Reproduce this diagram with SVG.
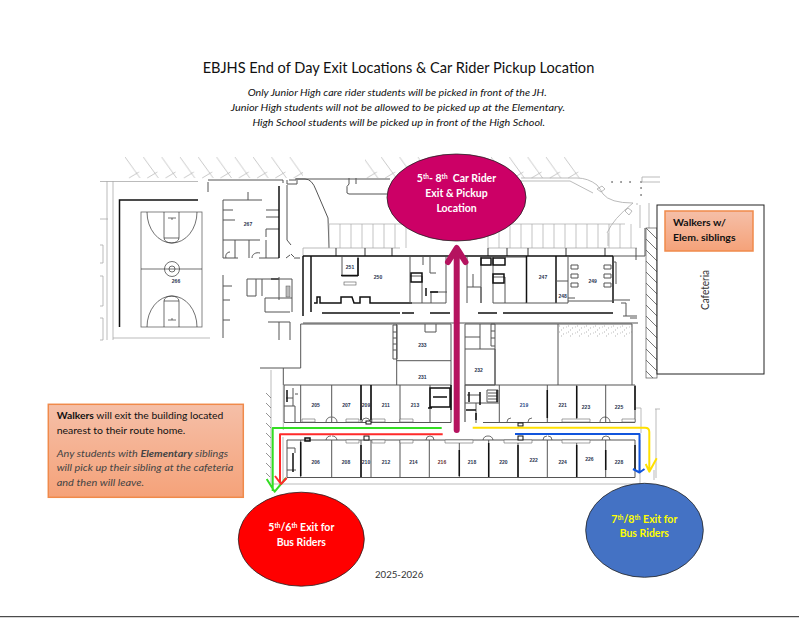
<svg xmlns="http://www.w3.org/2000/svg" width="799" height="618" viewBox="0 0 799 618">
<style>
text{font-family:Lato,"Liberation Sans",sans-serif;fill:#111}
.w{fill:none;stroke:#555;stroke-width:1}
.m{fill:none;stroke:#555;stroke-width:1.2}
.t{fill:none;stroke:#111;stroke-width:1.5}
.g{fill:none;stroke:#aaa;stroke-width:.8}
.n{fill:none;stroke:#333;stroke-width:.7}
.win{fill:#fff;stroke:#666;stroke-width:.6}
.r{font:bold 5px "Liberation Sans",sans-serif;fill:#2b3550;text-anchor:middle}
.h{font-size:10.5px;font-weight:700;text-anchor:middle;fill:#fff}
.i{font-size:10px;font-style:italic}
.box{stroke:#f08a4b;stroke-width:1.5}
.arrow{fill:none;stroke-width:2;stroke-linejoin:round}
</style>
<defs>
<linearGradient id="orange" x1="0" y1="0" x2="0" y2="1"><stop offset="0" stop-color="#f5bfa8"/><stop offset="1" stop-color="#f5a279"/></linearGradient>
<pattern id="park" x="125" y="157" width="18.3" height="22" patternUnits="userSpaceOnUse"><path d="M0 0L15 21M4 21L14 15" fill="none" stroke="#b5b5b5" stroke-width=".7"/></pattern>
<pattern id="caf" x="646" y="228" width="11" height="11" patternUnits="userSpaceOnUse"><path d="M0 0L11 11M-2 9L2 13M9-2L13 2" fill="none" stroke="#555" stroke-width=".8"/></pattern>
<pattern id="side" x="266" y="393" width="5" height="10" patternUnits="userSpaceOnUse"><path d="M0 0L5 5" fill="none" stroke="#666" stroke-width=".7"/></pattern>
<pattern id="spk" x="558" y="325" width="9" height="6" patternUnits="userSpaceOnUse"><path d="M1 1h.8M5 3h.8M3 5h.8M8 2h.6" stroke="#777" stroke-width=".7"/></pattern>
</defs>

<g id="floor-plan">
<rect x="125" y="157" width="178" height="22" fill="url(#park)"/>
<rect x="365" y="157" width="215" height="22" fill="url(#park)"/>
<path class="g" d="M100 181.500H198M113 181V340M107 181V340M100 219H108M100 245h3v18h-3M100 276h3v30h-3M100 318h3v22h-3M113 338H210"/>
<path class="t" d="M198 200H119.500V327"/>
<path class="w" d="M208 180H283V183M208 182V192M289 180H296M287 180V184H297V180M296 179H305Q312 179 316 190L328 218L329 248M287 185V240L291 245M295 179H390M349 178V184M356 178V184M349 184Q346 186 347 190Q346 194 349 194H387"/>
<rect x="141" y="212" width="61" height="115" fill="none" stroke="#666" stroke-width=".8"/>
<g class="n">
<path d="M141 269H202M147 212A25 31 0 0 0 197 212M164 212V238M179 212V238M164 238H179M164 238A7.500 5 0 0 0 179 238M147 327A25 31 0 0 1 197 327M164 327V301M179 327V301M164 301H179M164 301A7.500 5 0 0 1 179 301M168 218H176M172 218V220M168 320H176M172 318V320"/>
<circle cx="172" cy="269" r="7.500"/><circle cx="172" cy="269" r="3"/>
</g>
<path class="w" d="M223 200V258M223 200H243M248 192V200M243 200H262M223 210H233M223 220H235M223 240H260M223 258H238M235 240V258M249 240V258M259 258H279M266 210H279M266 217H279M266 229H279M266 229V237M266 240V258M223 275V338M223 286H232M223 300H230M223 320H230"/>
<path class="w" d="M247 279H292M247 279V296H256M256 279V296M262 279V296M279 277V300M292 279V298H265M265 298V312H290M292 298V312M268 322H290M279 322V340M290 322V340"/>
<rect x="271" y="278" width="8" height="2" fill="#555"/><rect x="286" y="286" width="4" height="11" fill="#bbb" stroke="#555" stroke-width=".5"/>
<path class="t" d="M279 186V258"/>
<path class="w" d="M226 258c-1-3 1-6 4-6M252 258c0-4 4-6 8-5M286 258l4-3M294 257l-3-3M300 258h-6"/>
<path class="g" d="M303 248H400M488 248H637M303 248V256"/>
<path class="m" d="M336 248V256M365 248V256M392 248V256M488 248V256M507 248V256M528 248V256M566 248V256M605 248V256"/>
<path fill="none" stroke="#aaa" stroke-width=".7" d="M329 224V248m11-24v24m11-24v24m11-24v24m11-24v24m11-24v24m11-24v24m11-24v24M488 224V248m11-24v24m11-24v24m11-24v24m11-24v24m11-24v24m11-24v24m11-24v24m11-24v24m11-24v24m11-24v24m11-24v24m11-24v24m11-24v24M328 224H402M488 224H625"/>
<path class="g" d="M521 178H577Q588 178 597 185Q601 190 603 194Q610 203 633 203M521 181H570L593 193M597 189l5-3 3 3-4 3ZM607 233Q613 219 633 203M608 233V246M625 211l3-3 4 3-3 4ZM637 203V205M649 203V228M640 205V228"/>
<path d="M612 182h.1M621 182h.1M630 182h.1M641 182h.1M641 188h.1M641 195h.1" stroke="#333" stroke-width="1.500" stroke-linecap="round"/>
<path class="g" d="M642 177H660M642 182H660M642 177V182"/>
<path class="t" d="M303 256H613M303 256V316M311 256V312M613 256V303"/>
<path class="w" d="M636 248V260M613 256H645V228M613 262H616V284M613 300H630M621 303H626V316M630 318H637M623 316H637"/>
<path class="w" d="M342 257V276H358V257"/>
<path class="t" d="M341 275.500H358M358 258V276"/>
<path class="t" d="M314 303H317V297H320V303H341V297H352L354 303H360V297H370V303H412"/>
<rect x="344" y="282" width="12" height="3" fill="#fff" stroke="#555" stroke-width=".6"/>
<path class="t" d="M322 313H400M402 313H414M430 313H450M478 313H497M503 313H613"/>
<path class="w" d="M303 323H638"/>
<path class="w" d="M410 257V303M410 303H446M410 276H422V286M422 286V303M431 292H447M431 292V303M446 257V303M430 257V273H436M423 257V265"/>
<path class="t" d="M411 273H422V282H411ZM426 288V296M430 292H438"/>
<path class="w" d="M467 257V303M467 287H481V303M473 274V287M481 257V303M493 257V303M493 277H505V303M505 257H526M493 303H526"/>
<path class="t" d="M481 258H491V265H481ZM493 258H505V265H493ZM493 274H504V283H493ZM526.500 256V303M556 256V303"/>
<path class="w" d="M526 303H556M556 281H568M568 256V303M556 303H568M568 301H613M568 298H575"/>
<path class="w" d="M571 265H578V269H571ZM571 274H578V278H571ZM571 283H578V287H571ZM604 265H611V269H604ZM604 274H611V278H604ZM604 283H611V287H604Z"/>
<path class="w" d="M300.700 324V368H260M283.300 368V385M300.700 324H396.700M396.700 324V385M396.700 324H451V385M396.700 360.700H451M436 324V332H425M425 324V332"/>
<path class="w" d="M465 349H495V385H465ZM495 324V385M465 324H495M465 337H480V349M495 324H632M558 324V385M632 324V385M480 337V324M465 324V349"/>
<rect x="558" y="325" width="74" height="12" fill="url(#spk)"/>
<path class="w" d="M393 325h4v34h-4zM393 332h4M393 338h4M393 344h4M393 350h4M495 324h-4v22h4M491 331h4M491 338h4"/>
<path class="m" d="M284 385H451M499 385H635M284 385V422M465 385V422M465 385H499"/>
<path class="w" d="M284 422.500H451M483 422.500H635M300.700 385V422.500M331.700 385V422.500M361 385V422.500M371 385V422.500M400 385V422.500M430 385V422.500M451 385V422.500M499.300 385V422.500M547.300 385V422.500M576.700 385V422.500M605.700 385V422.500M635 385V422.500"/>
<path class="t" d="M361 385V420M371 385V420M547.300 390V418M576.700 386V418M635 386V410M451 385V410"/>
<path class="t" d="M430 388H450V407H430ZM433 397H447M428 408H432"/>
<path class="w" d="M465 403H499M476 403V423M284 406H295V422M293 388V406M286 398H293M295 394H298M467 395H480M487 390H498V402H487ZM488 393H497M488 396H497M488 399H497"/>
<path class="t" d="M287 390V402M469 392V402M480 392V405M497 390V402M476 413V420M466 410H476"/>
<path class="w" d="M287 440H635M287 477.500H635M300.700 440V477.500M331.700 440V477.500M361 440V477.500M371 440V477.500M400 440V477.500M429.300 440V477.500M459.300 440V477.500M488.700 440V477.500M518 440V477.500M547.300 440V477.500M576.700 440V477.500M605.700 440V477.500M635 440V477.500M287 440V477.500M287 448H295V453M287 470H296"/>
<path class="t" d="M293 453V472M300.700 442V476M361 445V477M459.300 450V476M488.700 443V477M518 445V477M576.700 445V477M605.700 450V470M635 445V470M305 438h5v3h-5Z"/>
<path class="n" d="M326 422a5 5 0 0 1 5-5M337 422a5 5 0 0 0-5-5M362 422a4 4 0 0 1 4-4M370 422a4 4 0 0 0-4-4M507 422a4 4 0 0 1 4-4M528 422a4 4 0 0 1 4-4M600 422a5 5 0 0 1 5-5M610 422a5 5 0 0 0-5-5M326 440a5 5 0 0 1 5-4M337 440a5 5 0 0 0-5-4M426 440a4 4 0 0 1 4-4M434 440a4 4 0 0 0-4-4M483 440a5 5 0 0 1 5-4M493 440a5 5 0 0 0-5-4M543 440a4 4 0 0 1 4-4M552 440a4 4 0 0 0-4-4M602 440a4 4 0 0 1 4-4M610 440a4 4 0 0 0-4-4"/>
<path class="win" d="M302 419h13v3h-13zM346 419h13v3h-13zM372 419h13v3h-13zM400 419h13v3h-13zM562 419h28v3h-28zM622 419h13v3h-13zM346 440h13v3h-13zM372 440h13v3h-13zM400 440h13v3h-13zM445 440h28v3h-28zM504 440h28v3h-28zM562 440h28v3h-28z"/>
<rect x="518" y="423" width="5" height="3" fill="#fff" stroke="#111"/><rect x="366" y="421" width="5" height="3" fill="#fff" stroke="#111"/><rect x="364" y="436" width="5" height="4" fill="#fff" stroke="#111"/><rect x="518" y="436" width="5" height="4" fill="#fff" stroke="#111"/>
<path class="g" d="M271 370V484M283.300 385V430M272 484H640M283 437V480M636 408h5v25M655 409h5M656 409V478M640 484V440M654 470V480"/>
<rect x="266" y="393" width="5" height="84" fill="url(#side)"/>
<rect x="646" y="228" width="11" height="150" fill="url(#caf)" stroke="#555" stroke-width=".7"/>
<g>
<text class="r" x="176" y="283">266</text><text class="r" x="248" y="226">267</text><text class="r" x="350" y="269">251</text><text class="r" x="378" y="279">250</text><text class="r" x="543" y="279">247</text><text class="r" x="562.700" y="298">248</text><text class="r" x="592.700" y="283">249</text><text class="r" x="422.300" y="347">233</text><text class="r" x="422.300" y="378.500">231</text><text class="r" x="478.700" y="372">232</text>
<text class="r" x="315.700" y="407">205</text><text class="r" x="346.300" y="407">207</text><text class="r" x="366" y="407">209</text><text class="r" x="385.700" y="407">211</text><text class="r" x="415" y="407">213</text>
<text class="r" x="524" y="407" style="fill:#2a4a8a">219</text><text class="r" x="562.700" y="407">221</text><text class="r" x="586" y="409">223</text><text class="r" x="619" y="409">225</text>
<text class="r" x="315.700" y="464">206</text><text class="r" x="346" y="464">208</text><text class="r" x="366" y="464">210</text><text class="r" x="386" y="464">212</text><text class="r" x="413.300" y="464">214</text><text class="r" x="442" y="464" style="fill:#6b2f2f">216</text><text class="r" x="472" y="464">218</text><text class="r" x="503.300" y="464">220</text><text class="r" x="533.700" y="462">222</text><text class="r" x="562.700" y="464">224</text><text class="r" x="589.300" y="461">226</text><text class="r" x="619" y="464">228</text>
</g>
</g>

<g id="heading">
<text x="202.700" y="72.700" font-size="14.700" textLength="391.600" lengthAdjust="spacingAndGlyphs">EBJHS End of Day Exit Locations &amp; Car Rider Pickup Location</text>
<text class="i" x="247.700" y="96" textLength="299" lengthAdjust="spacingAndGlyphs">Only Junior High care rider students will be picked in front of the JH.</text>
<text class="i" x="230.700" y="110.800" textLength="334.300" lengthAdjust="spacingAndGlyphs">Junior High students will not be allowed to be picked up at the Elementary.</text>
<text class="i" x="252.500" y="125.500" textLength="292.500" lengthAdjust="spacingAndGlyphs">High School students will be picked up in front of the High School.</text>
</g>

<g id="cafeteria">
<rect x="657" y="205" width="107" height="169" fill="#fff" stroke="#222" stroke-width="1"/>
<text x="0" y="0" transform="translate(709 310) rotate(-90)" font-size="10.500" style="fill:#333" textLength="40" lengthAdjust="spacingAndGlyphs">Cafeteria</text>
</g>

<g id="walkers-elem">
<rect class="box" x="665" y="211" width="88" height="40" fill="url(#orange)"/>
<text x="673" y="226" font-size="10" font-weight="700" textLength="53" lengthAdjust="spacingAndGlyphs">Walkers w/</text>
<text x="673" y="241" font-size="10" font-weight="700" textLength="62.500" lengthAdjust="spacingAndGlyphs">Elem. siblings</text>
</g>

<g id="walkers-note">
<rect class="box" x="48.300" y="404.300" width="195" height="93" fill="url(#orange)"/>
<text x="56.700" y="419" font-size="10" textLength="166.600" lengthAdjust="spacingAndGlyphs"><tspan font-weight="700">Walkers</tspan> will exit the building located</text>
<text x="56.700" y="434" font-size="10" textLength="128.600" lengthAdjust="spacingAndGlyphs">nearest to their route home.</text>
<text x="56.700" y="457" font-size="10" font-style="italic" style="fill:#444" textLength="171.300" lengthAdjust="spacingAndGlyphs">Any students with <tspan font-weight="700">Elementary</tspan> siblings</text>
<text x="56.700" y="471" font-size="10" font-style="italic" style="fill:#444" textLength="176.600" lengthAdjust="spacingAndGlyphs">will pick up their sibling at the cafeteria</text>
<text x="56.700" y="485.700" font-size="10" font-style="italic" style="fill:#444" textLength="87.300" lengthAdjust="spacingAndGlyphs">and then will leave.</text>
</g>

<g id="connectors">
<path class="arrow" stroke="#33dd22" d="M441.700 428H272.700V491M266.700 479L274.700 491.700L286 478"/>
<path class="arrow" stroke="#ff2a2a" d="M442.700 434.300H280V483M275 476L281 484L286.700 478"/>
<path class="arrow" stroke="#ffe000" d="M472.700 427.700H645Q649.300 427.700 649.300 432V470M645.700 464L649.300 471.700L656.700 458.300"/>
<path class="arrow" stroke="#1155dd" d="M515 434H639.500V472M633 469L639.500 472.500L644.500 469"/>
<path fill="none" stroke="#b5135f" stroke-width="6" stroke-linecap="round" stroke-linejoin="round" d="M456.700 430V250M448 262L456.700 248L465.500 262"/>
</g>

<g id="car-rider">
<ellipse cx="456.500" cy="197.500" rx="69.500" ry="43.500" fill="#cc0066" stroke="#222" stroke-width=".8"/>
<text class="h" x="456.500" y="181.500" font-size="10">5<tspan font-size="6.500" dy="-3">th</tspan><tspan dy="3">- 8</tspan><tspan font-size="6.500" dy="-3">th</tspan><tspan dy="3" xml:space="preserve">  Car Rider</tspan></text>
<text class="h" x="456.500" y="196.700">Exit &amp; Pickup</text>
<text class="h" x="456.500" y="211.700">Location</text>
</g>

<g id="bus-56">
<ellipse cx="301.300" cy="539.200" rx="63" ry="47" fill="#ff0000" stroke="#222" stroke-width=".8"/>
<text class="h" x="301.300" y="531">5<tspan font-size="6.500" dy="-3">th</tspan><tspan dy="3">/6</tspan><tspan font-size="6.500" dy="-3">th</tspan><tspan dy="3"> Exit for</tspan></text>
<text class="h" x="301.300" y="545.700">Bus Riders</text>
</g>

<g id="bus-78">
<ellipse cx="644.500" cy="530.300" rx="58.800" ry="47" fill="#4472c4" stroke="#222" stroke-width=".8"/>
<text class="h" x="644.300" y="523.300" style="fill:#ffff00">7<tspan font-size="6.500" dy="-3">th</tspan><tspan dy="3">/8</tspan><tspan font-size="6.500" dy="-3">th</tspan><tspan dy="3"> Exit for</tspan></text>
<text class="h" x="644.300" y="536.700" style="fill:#ffff00">Bus Riders</text>
</g>

<text x="375" y="578" font-size="9.500" style="fill:#333" textLength="48.300" lengthAdjust="spacingAndGlyphs">2025-2026</text>
<path d="M0 616.700H799" stroke="#222" stroke-width="1"/>
</svg>
